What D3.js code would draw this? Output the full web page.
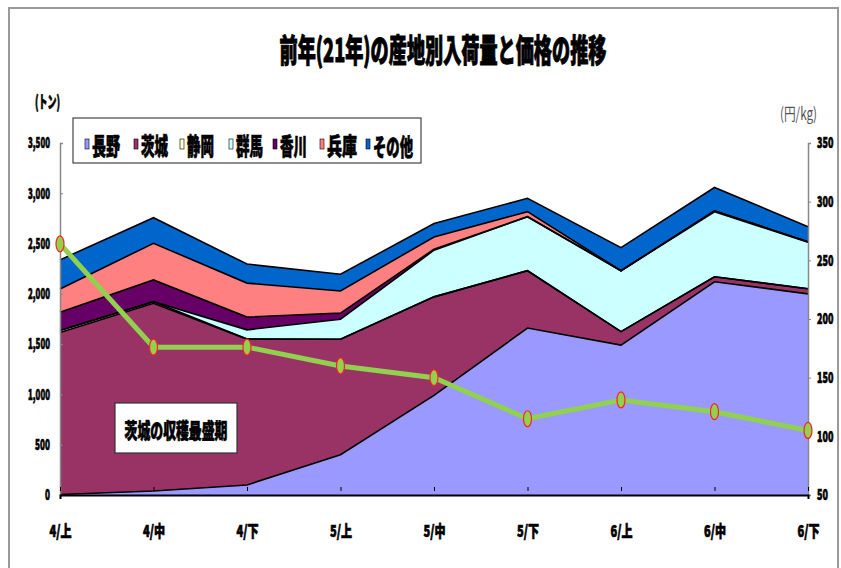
<!DOCTYPE html>
<html>
<head>
<meta charset="utf-8">
<script src="https://cdn.jsdelivr.net/npm/d3@7"></script>
<style>
  body { margin: 0; background: #fff; }
  text { font-family: "Noto Sans CJK JP", "DejaVu Sans", sans-serif; font-weight: 900; }
  text.heavy { stroke: #000; stroke-width: 0.7px; }
  text.unit { font-weight: 400; fill: #555; }
</style>
</head>
<body>
<div id="my_dataviz"></div>
<script>
// data
var categories = ["4/上", "4/中", "4/下", "5/上", "5/中", "5/下", "6/上", "6/中", "6/下"];
var nagano   = [5, 40, 100, 400, 990, 1660, 1490, 2120, 2000];
var ibaraki  = [1610, 1866, 1450, 1148, 980, 570, 134, 50, 50];
var shizuoka = [20, 16, 0, 0, 0, 0, 0, 0, 0];
var gunma    = [0, 0, 92, 200, 464, 537, 606, 646, 464];
var kagawa   = [182, 216, 127, 60, 10, 0, 0, 10, 5];
var hyogo    = [232, 365, 338, 221, 122, 50, 0, 0, 0];
var others   = [289, 254, 189, 166, 133, 133, 229, 232, 149];
var price    = [264, 176, 176, 160, 150, 115, 131, 121, 105];

var seriesNames = ["長野", "茨城", "静岡", "群馬", "香川", "兵庫", "その他"];
var seriesValues = [nagano, ibaraki, shizuoka, gunma, kagawa, hyogo, others];
var seriesColors = ["#9999ff", "#993366", "#ffffcc", "#ccffff", "#660066", "#ff8080", "#0066cc"];
var leftTicks = [0, 500, 1000, 1500, 2000, 2500, 3000, 3500];
var rightTicks = [50, 100, 150, 200, 250, 300, 350];

var W = 841, H = 568;
var margin = {top: 143, right: 33, bottom: 73, left: 60},
    width = W - margin.left - margin.right,
    height = H - margin.top - margin.bottom;

var svg = d3.select("#my_dataviz")
  .append("svg")
    .attr("width", W)
    .attr("height", H);

// outer frame (only left, top, right show)
svg.append("path")
  .attr("d", "M9,568 V8 H838 V568")
  .attr("fill", "none")
  .attr("stroke", "#9a9a9a")
  .attr("stroke-width", 2);

var g = svg.append("g")
  .attr("transform", "translate(" + margin.left + "," + margin.top + ")");

// table for the stack
var table = categories.map(function(c, i) {
  var row = {cat: c};
  seriesNames.forEach(function(n, k) { row[n] = seriesValues[k][i]; });
  return row;
});

var x = d3.scalePoint()
  .domain(categories)
  .range([0, width]);

var y = d3.scaleLinear()
  .domain([0, 3500])
  .range([height, 0]);

var y2 = d3.scaleLinear()
  .domain([50, 350])
  .range([height, 0]);

var color = d3.scaleOrdinal()
  .domain(seriesNames)
  .range(seriesColors);

var stacked = d3.stack().keys(seriesNames)(table);

var area = d3.area()
  .x(function(d) { return x(d.data.cat); })
  .y0(function(d) { return y(d[0]); })
  .y1(function(d) { return y(d[1]); });

var topLine = d3.line()
  .x(function(d) { return x(d.data.cat); })
  .y(function(d) { return y(d[1]); });

g.selectAll(".layer")
  .data(stacked)
  .enter()
  .append("path")
    .attr("class", "layer")
    .attr("fill", function(d) { return color(d.key); })
    .attr("d", area);

g.selectAll(".edge")
  .data(stacked)
  .enter()
  .append("path")
    .attr("class", "edge")
    .attr("fill", "none")
    .attr("stroke", "#000")
    .attr("stroke-width", 1.6)
    .attr("d", topLine);

// helper: squeezed text like the original condensed font
// (measure, then scale horizontally to the wanted width)
function label(sel, txt, px, py, size, len, anchor) {
  var t = sel.append("text")
    .attr("class", "heavy")
    .attr("x", 0)
    .attr("y", 0)
    .attr("font-size", size)
    .attr("text-anchor", anchor || "start")
    .attr("dominant-baseline", "central")
    .text(txt);
  var k = len / t.node().getComputedTextLength();
  t.attr("transform", "translate(" + px + "," + py + ") scale(" + k + ",1)");
  return t;
}

// left axis
var fmt = d3.format(",");
var yAxis = g.append("g")
  .call(d3.axisLeft(y).tickValues(leftTicks).tickSize(-3).tickPadding(10).tickFormat(fmt));
yAxis.select(".domain").attr("stroke", "#888").attr("stroke-width", 1.5);
yAxis.selectAll(".tick line").attr("stroke", "#888");
yAxis.selectAll(".tick text")
  .attr("class", "heavy")
  .attr("font-size", 15)
  .attr("fill", "#000")
  .attr("textLength", function(d) { var s = fmt(d); return s.replace(",", "").length * 5 + (s.indexOf(",") >= 0 ? 2 : 0); })
  .attr("lengthAdjust", "spacingAndGlyphs");

// right axis (squeezed with a transform so the box stays inside the page)
var y2Axis = g.append("g")
  .attr("transform", "translate(" + width + ",0)")
  .call(d3.axisRight(y2).tickValues(rightTicks).tickSize(3));
y2Axis.select(".domain").attr("stroke", "#888").attr("stroke-width", 1.5);
y2Axis.selectAll(".tick line").attr("stroke", "#888");
y2Axis.selectAll(".tick text")
  .attr("class", "heavy")
  .attr("font-size", 15)
  .attr("fill", "#000")
  .attr("x", 0)
  .attr("transform", "translate(9,0) scale(0.6,1)");

// bottom axis
var xAxis = g.append("g")
  .attr("transform", "translate(0," + height + ")")
  .call(d3.axisBottom(x).tickSize(4).tickPadding(27));
xAxis.select(".domain").attr("stroke", "#000").attr("stroke-width", 2);
xAxis.selectAll(".tick line").attr("stroke", "#000").attr("transform", "translate(0,-8)");
xAxis.selectAll(".tick text")
  .attr("class", "heavy")
  .attr("font-size", 16)
  .attr("fill", "#000")
  .attr("textLength", 22)
  .attr("lengthAdjust", "spacingAndGlyphs");

// price line
g.append("path")
  .datum(price)
  .attr("fill", "none")
  .attr("stroke", "#92d050")
  .attr("stroke-width", 5)
  .attr("d", d3.line()
    .x(function(d, i) { return x(categories[i]); })
    .y(function(d) { return y2(d); })
  );

g.selectAll(".dot")
  .data(price)
  .enter()
  .append("ellipse")
    .attr("cx", function(d, i) { return x(categories[i]); })
    .attr("cy", function(d) { return y2(d); })
    .attr("rx", 4)
    .attr("ry", 8)
    .attr("fill", "#92d050")
    .attr("stroke", "#ff2020")
    .attr("stroke-width", 1.2);

// title and unit labels
label(svg, "前年(21年)の産地別入荷量と価格の推移", 443, 48, 32, 327, "middle").style("stroke-width", "1px");
label(svg, "(トン)", 35, 100, 17, 25);
label(svg, "(円/kg)", 780, 112, 17, 40).attr("class", "unit");

// annotation box
svg.append("rect")
  .attr("x", 115).attr("y", 403)
  .attr("width", 122).attr("height", 50)
  .attr("fill", "#fff")
  .attr("stroke", "#333")
  .attr("stroke-width", 1.2);
label(svg, "茨城の収穫最盛期", 176, 429, 21, 103, "middle");

// legend
var legendX = [85, 134, 180, 229, 273, 320, 366];
var legendW = [28, 27, 27, 27, 27, 30, 40];
svg.append("rect")
  .attr("x", 73).attr("y", 118)
  .attr("width", 348).attr("height", 45)
  .attr("fill", "#fff")
  .attr("stroke", "#444")
  .attr("stroke-width", 1.2);

svg.selectAll("mymarks")
  .data(seriesNames)
  .enter()
  .append("rect")
    .attr("x", function(d, i) { return legendX[i]; })
    .attr("y", 139)
    .attr("width", 4)
    .attr("height", 10)
    .attr("fill", function(d) { return color(d); })
    .attr("stroke", "#000")
    .attr("stroke-width", 0.6);

seriesNames.forEach(function(n, i) {
  label(svg, n, legendX[i] + 7, 145, 24, legendW[i]);
});
</script>
</body>
</html>
